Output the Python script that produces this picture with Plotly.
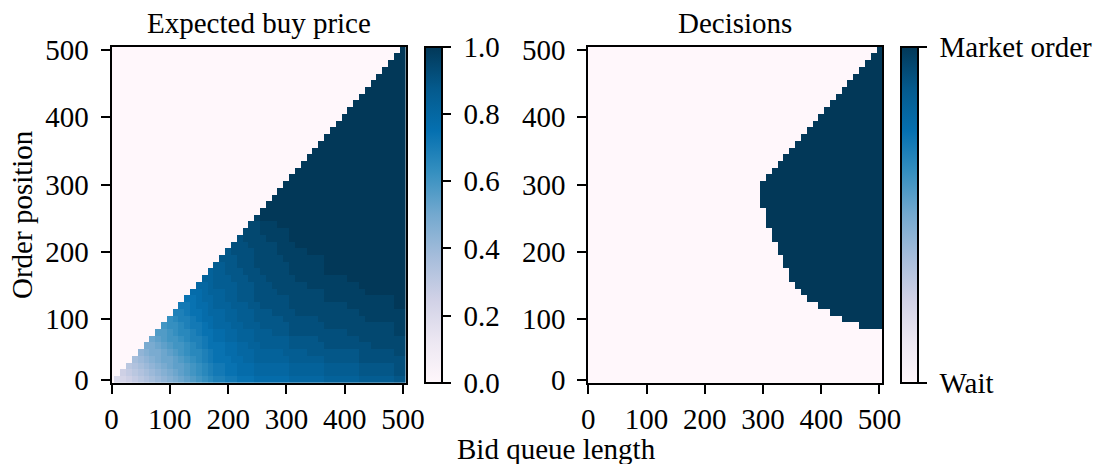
import plotly.graph_objects as go

# ---------------- data ----------------
bid_queue_length = [0, 10, 20, 30, 40, 50, 60, 70, 80, 90, 100, 110, 120, 130, 140, 150,
                    160, 170, 180, 190, 200, 210, 220, 230, 240, 250, 260, 270, 280, 290,
                    300, 310, 320, 330, 340, 350, 360, 370, 380, 390, 400, 410, 420, 430,
                    440, 450, 460, 470, 480, 490, 500]
order_position = [10, 20, 30, 40, 50, 60, 70, 80, 90, 100, 110, 120, 130, 140, 150, 160,
                  170, 180, 190, 200, 210, 220, 230, 240, 250, 260, 270, 280, 290, 300,
                  310, 320, 330, 340, 350, 360, 370, 380, 390, 400, 410, 420, 430, 440,
                  450, 460, 470, 480, 490, 500]

# Expected buy price, one entry per bid-queue-length column, read bottom -> top.
# Each token = level char (0..z -> 0/35..35/35) followed by how many cells it covers.
# Cells above the listed ones (order position > queue length) are 0.
expected_price_runs = [
    "",
    "71",
    "81 91",
    "91 a1 b1",
    "a1 b1 c1 d1",
    "b1 c1 d1 e1 f1",
    "c1 d1 e1 f1 g1 h1",
    "d1 e1 f1 g1 h2 i1",
    "e1 f1 g1 h2 i1 j1 k1",
    "f1 g1 h1 i2 j1 k2 l1",
    "g1 h1 i2 j1 k1 l2 m2",
    "h1 i1 j2 k1 l2 m2 n1 o1",
    "i1 j2 k1 l2 m1 n2 o2 p1",
    "j1 k2 l1 m2 n2 o2 p2 q1",
    "k1 l2 m1 n2 o2 p2 q3 r1",
    "l1 m2 n2 o2 p2 q2 r3 s1",
    "m1 n2 o2 p2 q2 r3 s3 t1",
    "n1 o2 p2 q3 r2 s3 t4",
    "o1 p2 q3 r2 s3 t3 u4",
    "o1 p2 q3 r2 s3 t3 u4 v1",
    "p1 q3 r2 s3 t3 u4 v4",
    "p1 q2 r3 s2 t3 u4 v4 w2",
    "q1 r3 s2 t3 u3 v5 w5",
    "q1 r2 s3 t2 u4 v4 w5 x2",
    "q1 r2 s2 t3 u3 v4 w5 x4",
    "r1 s2 t3 u3 v3 w5 x7 y1",
    "r1 s2 t2 u3 v3 w5 x6 y2 z2",
    "r1 s2 t2 u3 v3 w4 x6 y3 z3",
    "r1 s2 t2 u2 v3 w4 x7 y3 z4",
    "r1 s2 t2 u2 v3 w3 x6 y4 z6",
    "r1 s2 t1 u3 v2 w4 x5 y5 z7",
    "s1 t2 u2 v2 w4 x5 y5 z10",
    "s1 t2 u2 v2 w3 x5 y5 z12",
    "s1 t2 u2 v2 w3 x5 y5 z13",
    "s1 t2 u1 v3 w3 x4 y5 z15",
    "s1 t2 u1 v3 w3 x4 y5 z16",
    "s1 t2 u1 v2 w3 x5 y5 z17",
    "t1 u2 v2 w3 x4 y4 z21",
    "t1 u2 v2 w3 x4 y4 z22",
    "t1 u2 v2 w3 x4 y4 z23",
    "t1 u2 v2 w3 x4 y4 z24",
    "t1 u2 v2 w2 x4 y4 z26",
    "t1 u2 v2 w2 x4 y4 z27",
    "u1 v2 w3 x4 y4 z29",
    "u1 v2 w3 x3 y4 z31",
    "u1 v2 w2 x4 y4 z32",
    "u1 v2 w2 x4 y4 z33",
    "u1 v2 w2 x4 y4 z34",
    "u1 v2 w2 x4 y4 z35",
    "v1 w3 x3 y4 z38",
    "v1 w3 x3 y4 z39",
]
LEVELS = "0123456789abcdefghijklmnopqrstuvwxyz"

# Decisions: smallest bid queue length at which a market order is placed, per order position
market_order_from = [None, None, None, None, None, None, None, None,
                     470, 440, 420, 400, 380, 370, 360, 350, 350, 340, 340, 330,
                     330, 320, 320, 310, 310, 310, 300, 300, 300, 300,
                     310, 320, 330, 340, 350, 360, 370, 380, 390, 400,
                     410, 420, 430, 440, 450, 460, 470, 480, 490, 500]

colorbar_ticks = [0.0, 0.2, 0.4, 0.6, 0.8, 1.0]
decision_labels = ["Wait", "Market order"]
axis_ticks = [0, 100, 200, 300, 400, 500]
y_tick_positions = [10, 100, 200, 300, 400, 500]

# ---------------- build matrices ----------------
cols = []
for j, runs in enumerate(expected_price_runs):
    vals = []
    for tok in runs.split():
        vals += [LEVELS.index(tok[0]) / 35.0] * int(tok[1:])
    cols.append(vals)

z_price = []
for i, y in enumerate(order_position):
    row = []
    for j, x in enumerate(bid_queue_length):
        row.append(cols[j][i] if i < len(cols[j]) else 0.0)
    z_price.append(row)

z_dec = []
for i, y in enumerate(order_position):
    start = market_order_from[i]
    z_dec.append([1 if (start is not None and x >= start) else 0 for x in bid_queue_length])

# ---------------- figure ----------------
W, H = 1110, 464
FONT = "Liberation Serif"
FS = 29

def px_x(p):
    return p / W

def px_y(p):
    return (H - p) / H

top, bottom = 46.7, 383.0
ydom = [px_y(bottom), px_y(top)]
cb_len = (bottom - top) / H
cb_y = (ydom[0] + ydom[1]) / 2

def cbar(x0, tickvals, ticktext):
    return dict(x=px_x(x0), xanchor="left", xref="paper", xpad=0, ypad=0,
                y=cb_y, yanchor="middle", len=cb_len, lenmode="fraction",
                thickness=17, thicknessmode="pixels",
                outlinecolor="black", outlinewidth=2,
                ticks="outside", ticklen=8, tickwidth=2, tickcolor="black",
                tickvals=tickvals, ticktext=ticktext,
                tickfont=dict(family=FONT, size=FS, color="black"))

fig = go.Figure()
fig.add_trace(go.Heatmap(
    x=bid_queue_length, y=order_position, z=z_price,
    colorscale="PuBu", zmin=0, zmax=1,
    colorbar=cbar(425, colorbar_ticks, ["\u00a0%.1f" % v for v in colorbar_ticks]),
    xaxis="x", yaxis="y", hoverinfo="skip"))
fig.add_trace(go.Heatmap(
    x=bid_queue_length, y=order_position, z=z_dec,
    colorscale="PuBu", zmin=0, zmax=1,
    colorbar=cbar(901, [0, 1], ["\u00a0" + t for t in decision_labels]),
    xaxis="x2", yaxis="y2", hoverinfo="skip"))

axis_common = dict(showline=True, mirror=True, linecolor="black", linewidth=2,
                   ticks="outside", ticklen=9, tickwidth=2, tickcolor="black",
                   showgrid=False, zeroline=False, automargin=False,
                   tickfont=dict(family=FONT, size=FS, color="black"))

fig.update_layout(
    width=W, height=H,
    margin=dict(l=0, r=0, t=0, b=0, pad=0, autoexpand=False),
    paper_bgcolor="white", plot_bgcolor="white",
    font=dict(family=FONT, size=FS, color="black"),
    xaxis=dict(domain=[px_x(111.5), px_x(406)], range=[0, 505], anchor="y",
               tickvals=axis_ticks, **axis_common),
    yaxis=dict(domain=ydom, range=[5, 505], anchor="x",
               tickvals=y_tick_positions, ticktext=[str(v) for v in axis_ticks],
               ticklabelstandoff=6, **axis_common),
    xaxis2=dict(domain=[px_x(588.3), px_x(882.3)], range=[0, 505], anchor="y2",
                tickvals=axis_ticks, **axis_common),
    yaxis2=dict(domain=ydom, range=[5, 505], anchor="x2",
                tickvals=y_tick_positions, ticktext=[str(v) for v in axis_ticks],
                ticklabelstandoff=6, **axis_common),
    showlegend=False,
)

ann_font = dict(family=FONT, size=FS, color="black")
fig.add_annotation(text="Expected buy price", x=px_x(258.7), y=px_y(23), xref="paper", yref="paper",
                   showarrow=False, xanchor="center", yanchor="middle", font=ann_font)
fig.add_annotation(text="Decisions", x=px_x(735.3), y=px_y(23), xref="paper", yref="paper",
                   showarrow=False, xanchor="center", yanchor="middle", font=ann_font)
fig.add_annotation(text="Bid queue length", x=px_x(556), y=px_y(449), xref="paper", yref="paper",
                   showarrow=False, xanchor="center", yanchor="middle", borderpad=0, font=ann_font)
fig.add_annotation(text="Order position", x=px_x(22), y=px_y(215), xref="paper", yref="paper",
                   showarrow=False, xanchor="center", yanchor="middle", textangle=-90, font=ann_font)

fig.write_html("out.html", config={"displayModeBar": False},
               post_script="document.body.style.margin='0px';")
